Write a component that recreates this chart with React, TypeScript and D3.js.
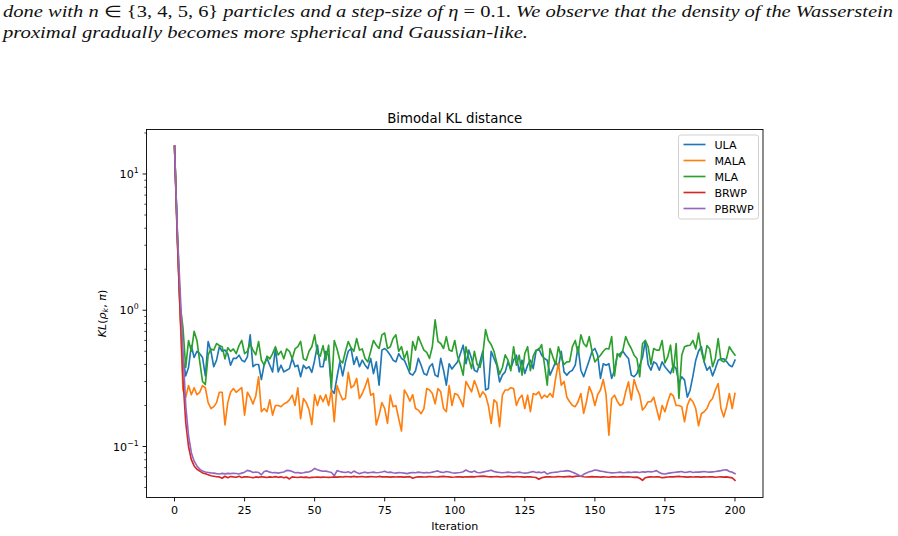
import React from 'react';
import * as d3 from 'd3';

// KL distance per iteration for each sampler (iterations 0..200)
const ulaKL = [
  16, 3.6, 0.95, 0.45, 0.33, 0.38, 0.55, 0.45, 0.5, 0.48,
  0.45, 0.33, 0.59, 0.5, 0.385, 0.43, 0.54, 0.5, 0.51, 0.48,
  0.395, 0.443, 0.443, 0.468, 0.43, 0.418, 0.455, 0.66, 0.385, 0.4,
  0.4, 0.31, 0.4, 0.443, 0.395, 0.353, 0.524, 0.353, 0.395, 0.353,
  0.363, 0.373, 0.443, 0.385, 0.395, 0.325, 0.395, 0.373, 0.385, 0.35,
  0.43, 0.554, 0.385, 0.385, 0.5, 0.468, 0.26, 0.245, 0.325, 0.418,
  0.33, 0.418, 0.5, 0.524, 0.4, 0.455, 0.385, 0.43, 0.395, 0.373,
  0.443, 0.343, 0.418, 0.282, 0.51, 0.524, 0.5, 0.468, 0.43, 0.418,
  0.48, 0.443, 0.43, 0.385, 0.343, 0.334, 0.36, 0.443, 0.395, 0.343,
  0.334, 0.385, 0.405, 0.334, 0.325, 0.443, 0.363, 0.282, 0.405, 0.37,
  0.395, 0.418, 0.48, 0.554, 0.405, 0.51, 0.443, 0.363, 0.353, 0.418,
  0.5, 0.26, 0.266, 0.5, 0.443, 0.395, 0.298, 0.334, 0.353, 0.418,
  0.373, 0.43, 0.468, 0.353, 0.43, 0.343, 0.395, 0.43, 0.373, 0.5,
  0.524, 0.468, 0.443, 0.43, 0.334, 0.373, 0.418, 0.385, 0.5, 0.353,
  0.334, 0.353, 0.363, 0.395, 0.54, 0.363, 0.325, 0.373, 0.43, 0.5,
  0.524, 0.468, 0.316, 0.405, 0.395, 0.405, 0.316, 0.363, 0.468, 0.48,
  0.5, 0.468, 0.443, 0.334, 0.325, 0.343, 0.395, 0.45, 0.6, 0.4,
  0.363, 0.418, 0.405, 0.363, 0.418, 0.385, 0.363, 0.343, 0.395, 0.373,
  0.29, 0.325, 0.307, 0.23, 0.26, 0.33, 0.43, 0.5, 0.54, 0.418,
  0.363, 0.385, 0.33, 0.373, 0.43, 0.44, 0.44, 0.42, 0.395, 0.385,
  0.43,
];

const malaKL = [
  16, 3.4, 0.95, 0.26, 0.23, 0.28, 0.24, 0.27, 0.24, 0.25,
  0.28, 0.27, 0.21, 0.19, 0.196, 0.21, 0.25, 0.25, 0.144, 0.21,
  0.25, 0.266, 0.25, 0.26, 0.27, 0.17, 0.25, 0.23, 0.205, 0.235,
  0.325, 0.18, 0.19, 0.18, 0.22, 0.17, 0.2, 0.2, 0.196, 0.205,
  0.21, 0.22, 0.238, 0.2, 0.27, 0.16, 0.225, 0.21, 0.186, 0.145,
  0.24, 0.2, 0.236, 0.213, 0.24, 0.2, 0.26, 0.152, 0.28, 0.245,
  0.22, 0.225, 0.35, 0.27, 0.28, 0.316, 0.225, 0.245, 0.275, 0.316,
  0.238, 0.245, 0.144, 0.17, 0.21, 0.19, 0.148, 0.238, 0.196, 0.2,
  0.16, 0.13, 0.26, 0.24, 0.215, 0.24, 0.19, 0.185, 0.174, 0.19,
  0.266, 0.26, 0.245, 0.206, 0.266, 0.252, 0.19, 0.18, 0.28, 0.2,
  0.245, 0.24, 0.22, 0.196, 0.3, 0.275, 0.252, 0.305, 0.27, 0.23,
  0.252, 0.238, 0.2, 0.148, 0.22, 0.21, 0.14, 0.238, 0.26, 0.26,
  0.27, 0.266, 0.2, 0.225, 0.238, 0.19, 0.238, 0.18, 0.245, 0.24,
  0.252, 0.225, 0.238, 0.23, 0.245, 0.23, 0.316, 0.41, 0.282, 0.3,
  0.23, 0.213, 0.2, 0.196, 0.213, 0.245, 0.175, 0.213, 0.275, 0.245,
  0.2, 0.24, 0.26, 0.31, 0.24, 0.121, 0.225, 0.238, 0.215, 0.2,
  0.205, 0.252, 0.298, 0.22, 0.31, 0.266, 0.238, 0.185, 0.196, 0.213,
  0.213, 0.23, 0.19, 0.157, 0.2, 0.18, 0.213, 0.245, 0.235, 0.2,
  0.2, 0.196, 0.152, 0.2, 0.225, 0.213, 0.19, 0.142, 0.174, 0.18,
  0.19, 0.213, 0.225, 0.26, 0.29, 0.19, 0.165, 0.196, 0.245, 0.19,
  0.245,
];

const mlaKL = [
  16, 3.8, 1.1, 0.75, 0.38, 0.6, 0.5, 0.7, 0.6, 0.42,
  0.3, 0.285, 0.47, 0.52, 0.51, 0.57, 0.55, 0.54, 0.44, 0.53,
  0.5, 0.52, 0.48, 0.55, 0.6, 0.48, 0.5, 0.57, 0.51, 0.47,
  0.59, 0.43, 0.395, 0.46, 0.44, 0.48, 0.54, 0.47, 0.5, 0.44,
  0.52, 0.5, 0.44, 0.52, 0.54, 0.59, 0.44, 0.43, 0.5, 0.54,
  0.66, 0.48, 0.46, 0.55, 0.43, 0.554, 0.27, 0.6, 0.52, 0.43,
  0.41, 0.5, 0.59, 0.53, 0.5, 0.62, 0.51, 0.52, 0.443, 0.418,
  0.5, 0.6, 0.554, 0.524, 0.66, 0.68, 0.524, 0.54, 0.62, 0.66,
  0.5, 0.54, 0.443, 0.5, 0.363, 0.59, 0.51, 0.64, 0.57, 0.51,
  0.49, 0.443, 0.54, 0.85, 0.59, 0.57, 0.524, 0.64, 0.51, 0.5,
  0.6, 0.46, 0.4, 0.334, 0.54, 0.443, 0.373, 0.5, 0.4, 0.38,
  0.47, 0.72, 0.6, 0.56, 0.5, 0.41, 0.34, 0.38, 0.47, 0.43,
  0.36, 0.54, 0.395, 0.468, 0.334, 0.48, 0.54, 0.36, 0.46, 0.51,
  0.51, 0.56, 0.4, 0.282, 0.524, 0.455, 0.4, 0.54, 0.45, 0.4,
  0.418, 0.42, 0.54, 0.6, 0.48, 0.66, 0.57, 0.54, 0.64, 0.5,
  0.418, 0.443, 0.468, 0.5, 0.524, 0.52, 0.64, 0.33, 0.48, 0.455,
  0.51, 0.64, 0.57, 0.524, 0.468, 0.443, 0.325, 0.57, 0.6, 0.54,
  0.4, 0.524, 0.51, 0.51, 0.6, 0.41, 0.455, 0.554, 0.35, 0.57,
  0.225, 0.468, 0.54, 0.55, 0.554, 0.6, 0.52, 0.68, 0.5, 0.42,
  0.55, 0.52, 0.385, 0.443, 0.62, 0.43, 0.418, 0.443, 0.54, 0.5,
  0.468,
];

const brwpKL = [
  16, 3.3, 1.0, 0.32, 0.15, 0.1, 0.08, 0.072, 0.068, 0.066,
  0.064, 0.063, 0.062, 0.061, 0.0605, 0.06, 0.0598, 0.0585, 0.0605, 0.059,
  0.0602, 0.0598, 0.0595, 0.0605, 0.0592, 0.0598, 0.06, 0.0595, 0.059, 0.0598,
  0.0593, 0.06, 0.0596, 0.0592, 0.0598, 0.0595, 0.0601, 0.0594, 0.0599, 0.059,
  0.0596, 0.0578, 0.0598, 0.0595, 0.0592, 0.0597, 0.0594, 0.0596, 0.059, 0.0593,
  0.0595, 0.0597, 0.0594, 0.0596, 0.0595, 0.0593, 0.0595, 0.0598, 0.0596, 0.0599,
  0.0597, 0.0601, 0.06, 0.0598, 0.0603, 0.0599, 0.06, 0.0602, 0.0597, 0.0599,
  0.0601, 0.06, 0.0597, 0.0603, 0.0599, 0.06, 0.0598, 0.0596, 0.0599, 0.0597,
  0.06, 0.0598, 0.0596, 0.0599, 0.0601, 0.0585, 0.0595, 0.0598, 0.06, 0.0597,
  0.0599, 0.0602, 0.06, 0.0597, 0.0598, 0.0601, 0.0604, 0.06, 0.0598, 0.0595,
  0.0597, 0.06, 0.0598, 0.0596, 0.06, 0.0598, 0.0601, 0.0599, 0.0602, 0.0604,
  0.0606, 0.0603, 0.06, 0.0598, 0.06, 0.0602, 0.0599, 0.0597, 0.06, 0.0603,
  0.0601, 0.0599, 0.0602, 0.06, 0.0598, 0.0596, 0.06, 0.0598, 0.0595, 0.0592,
  0.0575, 0.059, 0.0596, 0.0598, 0.06, 0.0597, 0.0599, 0.0602, 0.06, 0.0598,
  0.0601, 0.0603, 0.0599, 0.0604, 0.0608, 0.0605, 0.06, 0.0597, 0.0599, 0.0601,
  0.0598, 0.06, 0.0596, 0.0599, 0.0597, 0.0595, 0.0598, 0.06, 0.0597, 0.0599,
  0.0601, 0.0598, 0.06, 0.0597, 0.0594, 0.0596, 0.0585, 0.0565, 0.059, 0.0596,
  0.0599, 0.0597, 0.06, 0.0598, 0.059, 0.0594, 0.0597, 0.06, 0.0598, 0.0601,
  0.0603, 0.06, 0.0598, 0.0596, 0.0599, 0.0597, 0.06, 0.0598, 0.0596, 0.0599,
  0.0597, 0.06, 0.0598, 0.0595, 0.0597, 0.0599, 0.0596, 0.0598, 0.0593, 0.0588,
  0.0565,
];

const pbrwpKL = [
  16, 3.8, 1.4, 0.5, 0.2, 0.12, 0.09, 0.078, 0.072, 0.068,
  0.066, 0.065, 0.0645, 0.064, 0.0638, 0.0632, 0.0628, 0.0635, 0.063, 0.0635,
  0.0632, 0.0636, 0.0634, 0.0628, 0.0638, 0.0648, 0.0668, 0.066, 0.0645, 0.065,
  0.0645, 0.062, 0.0655, 0.0662, 0.0648, 0.0642, 0.0645, 0.0638, 0.0645, 0.065,
  0.0668, 0.0665, 0.0655, 0.0642, 0.0645, 0.0638, 0.0642, 0.0648, 0.0652, 0.0665,
  0.069, 0.0675, 0.0665, 0.0658, 0.066, 0.0652, 0.0645, 0.061, 0.0665, 0.0655,
  0.0648, 0.0645, 0.0652, 0.0638, 0.066, 0.0645, 0.0632, 0.0642, 0.0648, 0.064,
  0.0645, 0.0648, 0.0642, 0.0645, 0.065, 0.0658, 0.0645, 0.0648, 0.0642, 0.0638,
  0.0645, 0.0642, 0.0638, 0.0632, 0.064, 0.0645, 0.0642, 0.0648, 0.0645, 0.064,
  0.0645, 0.0642, 0.0648, 0.0655, 0.0662, 0.0648, 0.0645, 0.0655, 0.065, 0.0642,
  0.0638, 0.0642, 0.0645, 0.0652, 0.0672, 0.0655, 0.0648, 0.066, 0.0645, 0.0642,
  0.0648, 0.0655, 0.0662, 0.067, 0.0655, 0.0648, 0.0645, 0.0642, 0.0645, 0.0648,
  0.0645, 0.0642, 0.0645, 0.0648, 0.0642, 0.0638, 0.064, 0.0648, 0.0655, 0.0645,
  0.0648, 0.0642, 0.0652, 0.0628, 0.064, 0.0645, 0.0648, 0.0652, 0.0658, 0.066,
  0.0665, 0.066, 0.0648, 0.0635, 0.062, 0.0603, 0.0625, 0.064, 0.0652, 0.066,
  0.0672, 0.0668, 0.066, 0.0655, 0.0648, 0.0645, 0.064, 0.0642, 0.0645, 0.0648,
  0.0642, 0.0645, 0.0648, 0.0645, 0.065, 0.0648, 0.0645, 0.0652, 0.0648, 0.0655,
  0.0652, 0.0655, 0.0665, 0.0645, 0.0632, 0.0628, 0.0635, 0.064, 0.0645, 0.0648,
  0.0652, 0.0655, 0.0645, 0.0648, 0.0655, 0.0645, 0.065, 0.0648, 0.0652, 0.0655,
  0.065, 0.0648, 0.0652, 0.0655, 0.066, 0.0665, 0.0672, 0.0675, 0.0655, 0.0648,
  0.0632,
];

const seriesNames = ['ULA', 'MALA', 'MLA', 'BRWP', 'PBRWP'];
const seriesValues = [ulaKL, malaKL, mlaKL, brwpKL, pbrwpKL];
const seriesColors = ['#1f77b4', '#ff7f0e', '#2ca02c', '#d62728', '#9467bd'];

const xTicks = [0, 25, 50, 75, 100, 125, 150, 175, 200];
const yMajorTicks = [0.1, 1, 10];
const yTickExponents = ['\u22121', '0', '1'];

const chartTitle = 'Bimodal KL distance';
const xLabel = 'Iteration';

const W = 898;
const H = 536;
const plot = { left: 146.5, right: 763, top: 129.5, bottom: 497.5 };

const font = '"DejaVu Sans", sans-serif';
const fs = 11.1; // 10pt at this figure's dpi
const tickLen = 3.9;

export default function App() {
  const x = d3.scaleLinear().domain([-10, 210]).range([plot.left, plot.right]);
  const y = d3
    .scaleLog()
    .domain([Math.pow(10, -1.3743), Math.pow(10, 1.3266)])
    .range([plot.bottom, plot.top]);

  const minorTicks = y.ticks().filter((t) => !yMajorTicks.some((m) => Math.abs(m - t) < 1e-9));

  const line = d3
    .line<number>()
    .x((_, i) => x(i))
    .y((d) => y(d));

  return (
    <svg
      width={W}
      height={H}
      style={{ position: 'absolute', left: 0, top: 0, background: '#fff' }}
    >
      {/* caption above the figure */}
      <g
        fontFamily='"Times New Roman", "Liberation Serif", serif'
        fontStyle="italic"
        fontWeight="normal"
        fontSize={16}
        fill="#111"
      >
        <text x={3} y={17} textLength={890} lengthAdjust="spacingAndGlyphs">
          done with <tspan>n</tspan>
          <tspan fontStyle="normal"> ∈ {'{'}3, 4, 5, 6{'}'}</tspan> particles and a step-size of{' '}
          <tspan>η</tspan>
          <tspan fontStyle="normal"> = 0.1. </tspan> We observe that the density of the Wasserstein
        </text>
        <text x={3} y={38} textLength={525} lengthAdjust="spacingAndGlyphs">
          proximal gradually becomes more spherical and Gaussian-like.
        </text>
      </g>

      <defs>
        <clipPath id="plot-clip">
          <rect x={plot.left} y={plot.top} width={plot.right - plot.left} height={plot.bottom - plot.top} />
        </clipPath>
      </defs>

      <g clipPath="url(#plot-clip)">
        {seriesValues.map((vals, k) => (
          <path
            key={seriesNames[k]}
            d={line(vals) ?? ''}
            fill="none"
            stroke={seriesColors[k]}
            strokeWidth={1.65}
            strokeLinejoin="round"
            strokeLinecap="square"
          />
        ))}
      </g>

      {/* axes frame */}
      <rect
        x={plot.left}
        y={plot.top}
        width={plot.right - plot.left}
        height={plot.bottom - plot.top}
        fill="none"
        stroke="#000"
        strokeWidth={0.9}
      />

      {/* x ticks */}
      <g fontFamily={font} fontSize={fs} fill="#000">
        {xTicks.map((t) => (
          <g key={t}>
            <line x1={x(t)} x2={x(t)} y1={plot.bottom} y2={plot.bottom + tickLen} stroke="#000" strokeWidth={0.9} />
            <text x={x(t)} y={plot.bottom + 16.8} textAnchor="middle">
              {t}
            </text>
          </g>
        ))}
        <text x={(plot.left + plot.right) / 2} y={529.5} textAnchor="middle">
          {xLabel}
        </text>
      </g>

      {/* y ticks */}
      <g fontFamily={font} fill="#000">
        {minorTicks.map((t) => (
          <line key={t} x1={plot.left - 2.2} x2={plot.left} y1={y(t)} y2={y(t)} stroke="#000" strokeWidth={0.7} />
        ))}
        {yMajorTicks.map((t, k) => (
          <g key={t}>
            <line x1={plot.left - tickLen} x2={plot.left} y1={y(t)} y2={y(t)} stroke="#000" strokeWidth={0.9} />
            <text x={plot.left - 7.8} y={y(t) + 4} textAnchor="end" fontSize={fs}>
              10
              <tspan fontSize={7.8} dy={-5}>
                {yTickExponents[k]}
              </tspan>
            </text>
          </g>
        ))}
        <text
          transform={`translate(106, ${(plot.top + plot.bottom) / 2}) rotate(-90)`}
          textAnchor="middle"
          fontSize={fs}
          fontStyle="italic"
        >
          KL<tspan fontStyle="normal">(</tspan>ρ
          <tspan fontSize={7.8} dy={2.2}>
            k
          </tspan>
          <tspan dy={-2.2} fontStyle="normal">
            ,{' '}
          </tspan>
          π<tspan fontStyle="normal">)</tspan>
        </text>
      </g>

      <text
        x={(plot.left + plot.right) / 2}
        y={122.5}
        textAnchor="middle"
        fontFamily={font}
        fontSize={13.3}
        fill="#000"
      >
        {chartTitle}
      </text>

      {/* legend */}
      <g fontFamily={font} fontSize={fs}>
        <rect x={678.5} y={135} width={80} height={84} rx={2.5} fill="#fff" fillOpacity={0.8} stroke="#cccccc" strokeWidth={0.9} />
        {seriesNames.map((name, k) => {
          const cy = 144.5 + k * 16;
          return (
            <g key={name}>
              <line x1={683.5} x2={705.5} y1={cy} y2={cy} stroke={seriesColors[k]} strokeWidth={1.65} />
              <text x={714.5} y={cy + 4} fill="#000">
                {name}
              </text>
            </g>
          );
        })}
      </g>
    </svg>
  );
}
